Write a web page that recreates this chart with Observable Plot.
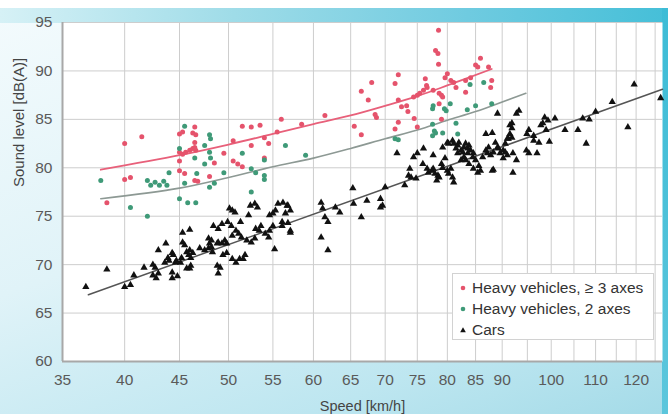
<!DOCTYPE html>
<html><head><meta charset="utf-8">
<script src="https://cdn.jsdelivr.net/npm/d3@7"></script>
<script src="https://cdn.jsdelivr.net/npm/@observablehq/plot@0.6"></script>
<style>
html,body{margin:0;padding:0;background:#fff;}
#wrap{position:relative;width:668px;height:414px;overflow:hidden;font-family:"Liberation Sans",Arial,sans-serif;
  background:linear-gradient(160deg,#f4fbfd 0%,#e0f3f8 45%,#bde6f0 80%,#a4dbe8 100%);}
#topwhite{position:absolute;left:0;top:0;width:668px;height:8px;background:#fff;}
#band{position:absolute;left:0;top:8px;width:668px;height:15px;background:linear-gradient(to right,#d6f1f6 0%,#9fdce8 35%,#6fcbe0 70%,#45bfd8 100%);}
#rstrip{position:absolute;left:662px;top:8px;width:6px;height:406px;background:linear-gradient(to bottom,#3dbcd6,#5cc6dc);}
#chart{position:absolute;left:0;top:0;}
#legend{position:absolute;left:452px;top:273px;width:202px;height:67px;background:#fff;border:1px solid #d2d2d2;box-sizing:border-box;}
.row{position:absolute;left:0;height:20px;display:flex;align-items:center;font-size:15.5px;color:#333;white-space:nowrap;}
.row svg{margin-left:6px;margin-right:5px;}
</style></head>
<body>
<div id="wrap">
  <div id="topwhite"></div>
  <div id="band"></div>
  <div id="rstrip"></div>
  <div id="chart"></div>
  <div id="legend"></div>
</div>
<script>
// Tick values
const speedTicks = [35,40,45,50,55,60,65,70,75,80,85,90,100,110,120];
const speedGrid = [35,40,45,50,55,60,65,70,75,80,85,90,95,100,105,110,115,120,125];
const levelTicks = [60,65,70,75,80,85,90,95];

// Series names
const seriesNames = ["Heavy vehicles, \u2265 3 axes","Heavy vehicles, 2 axes","Cars"];
const seriesColors = ["#e5536c","#3f9a78","#111111"];

// Heavy vehicles, >= 3 axes: [speed km/h, level dB(A)]
const heavy3 = [
[40,82.5],[41.5,83.2],[45,83.5],[45.3,83.7],[46.5,84.2],[46.3,83.6],[46.6,83.4],[46.5,82.6],
[45,81.6],[45.3,81.4],[45.6,81.6],[46,81.8],[46.3,82],[46.6,81.8],[46.5,82.1],
[45,80.7],[45,79.7],[45.5,79.4],[46.5,78.7],[46.8,78.6],[40,78.8],[40.5,79],[38.5,76.4],
[48,79.1],[48.5,80.5],[49.5,81.5],[50.5,82.8],[50.5,80.7],[51,80.4],[51.5,80.1],
[51.5,84.3],[52.5,84.2],[53.5,84.4],[52.5,82.3],[54,83.1],[54.5,82.5],[54,81],
[56,85],[55.5,83.7],[58.5,84.5],[61.5,85.4],[65.5,84.3],[66.5,83.4],[66.5,87.9],[67.5,87],
[68,88.8],[68.5,85.5],[68.7,85.2],[72,89.6],[71.5,88.7],[72,87],[72.5,86.3],[73.5,85.8],
[72,84.7],[71.5,84],[74.5,85.1],[75,84.2],[73.3,86.4],
[74.4,87.3],[75,87.5],[75.4,87.7],[76,88],[76.6,88.3],[77.6,88],[76.3,89.2],[76.5,88.5],
[78.5,94.2],[78,92.1],[78.4,91.8],[78.5,90.7],[78.6,87.7],[79,87.5],[79.2,87.3],[78.6,86.6],
[80,89.7],[79.6,89.3],[80.6,89],[81.1,88.8],[81.5,88.3],[83.2,89],[84.1,89.3],[83.2,87.8],
[85.4,90.4],[85.9,91.3],[85,90.6],[87.4,90.4],[87.8,88.3],[88,89],[79,85]
];

// Heavy vehicles, 2 axes
const heavy2 = [
[38,78.7],[40.5,75.9],[42,75],[42,78.7],[42.7,78.5],[42.3,78.2],[43.1,78.2],[43.8,78.2],
[43.5,78.6],[44,79.5],[45.5,78.4],[45,76.8],[45.8,76.4],[46.6,76.4],[46.7,79.4],[45,82],
[45.5,84.3],[46.5,81],[47.5,82.3],[48,83.4],[48.1,83],[48,81.6],[48.1,81],[47.5,80.4],
[48,78],[48.5,78.4],[49.5,79.5],[51.5,81.5],[52.5,79.9],[53,79.5],[52.5,77.5],[54,80.8],
[54,79.2],[54,78.8],[56.5,82.3],[59,81.3],[71.5,83],[72,82.9],[77.5,86.1],[77.5,84.5],
[77.8,83.8],[77.5,83.3],[78,83.6],[79.5,86.1],[79.8,85.9],[80.5,86.6],[81.5,84.6],[83.5,86],
[84,88.6],[86.5,88.8],[85,86.4],[88,86.6],[77.6,86.4],[79.2,83.6],[81.8,83.5]
];

// Cars
const cars = [
[36.8,67.7],[38.5,69.5],[40,67.7],[40.5,67.9],[40.8,68.9],[41.7,69.7],[42.5,70],[42.7,69.7],
[42.8,68.6],[43,69.1],[42.5,68.9],[43,71.5],[43.7,72.2],[43.6,70.2],[43.9,70.7],[44,70.4],
[44.3,71.2],[44.4,71],[44.3,69.2],[44.3,68.6],[44.8,68.8],[44.6,70.2],[44.7,70.4],[45.1,70.2],
[45.2,70.7],[45.3,73.3],[45.3,72.3],[45.5,72],[45.7,71.3],[46,71.5],[45.9,71],[46.1,70.7],
[46.3,71.2],[45.7,69.6],[46,69.6],[46.1,69.9],[46,73.6],
[47,71.7],[47.5,71.5],[47.9,71.7],[48.2,71.8],[48.3,71.3],[48,72.2],[47.9,72.7],[48.2,72.5],
[48.8,72.2],[48.9,72.3],[49.3,72.2],[49.6,72.5],[49.8,72.2],
[48.4,74],[48.9,73.7],[49.3,74.2],[48.8,69.9],[48.9,69.1],[49.1,69.7],
[49.4,71],[49.8,71.2],[50.4,70.6],[50.8,70.2],[51.2,70.6],
[50.1,75.8],[50.4,75.6],[50.7,75.4],[49.9,74.4],[50.3,74],[51.3,74.4],
[50.8,73.5],[51.1,73.2],[50.4,73],[51.4,72.8],[51.6,70.6],[51.8,71],
[52,72.5],[52.5,72.3],[52.9,72.7],[52.4,76.1],[52.9,76.3],[53.2,75.9],[52.2,75.1],
[53,73.7],[53.4,73.5],[53.6,74],
[54.1,73.2],[54.5,72.8],[54.6,73.5],[55,74],[54.6,75.1],[55,75.3],[55.3,75.6],[55.6,76.3],
[56.2,76.4],[56.7,76.1],[56.5,75.3],[56.1,74.4],[56.1,74],[57.1,73.5],[55.2,71.6],
[56.8,76.1],[57.1,75.6],[56.8,74.3],[57.1,73.3],[61,76.4],[61.2,75.8],[61.5,74.9],[61.9,74.4],
[61,72.8],[61.9,71.5],[62.9,75.9],[63.5,75.4],[65.3,77.9],[65.4,76.3],[66.5,74.9],[67.3,76.6],
[69.3,76.8],[69.6,76.1],[69.3,75.9],[70,78],[71.8,81.5],[73,78.2],[73.6,79.2],[73.8,79.9],
[74,79],[74.8,78.9],[74.4,81.1],[75,81.5],[75.9,80.4],[76,82],
[76.6,79.9],[76.8,79.5],[77.4,79.7],[77.6,79.9],[77.9,79.4],[78.2,78.7],[78.4,79.2],[77.6,81.3],
[79,80.4],[79.2,80],[79.6,81],[80,79.7],[80.2,79.4],[80.6,79.9],[80.9,79],[81.1,78.5],[78.6,79],
[79.2,82.1],[80.2,82.5],[80.9,82.8],[80,82.6],[81.1,82.5],[81.5,82],[81.8,82.3],[82,82.6],
[82.4,81.8],[82.7,81.6],[82.9,82.1],[83.2,82.5],[83.6,82],[83.8,82.3],[84.1,81.8],[83.6,81.5],
[82.9,81.1],[82.4,80.8],[81.8,81.5],[83.2,80.8],[83.8,80.4],[84.5,81.1],[84.6,81.5],[85,80.8],
[85.6,80.2],[84.6,79.9],[85.4,79.5],[85.9,79.7],[86.3,81.1],[86.9,81.8],[87.2,81.5],[87.4,82.1],
[87.8,81.3],[88.1,79.7],[88.3,81.6],[88.7,82.6],[89.1,82.1],[89.3,82],[89.6,81.5],[90.2,81.8],
[90.6,82.5],[91.2,83],[91.5,83.5],[91.9,84.1],[91.5,84.4],[91,81.3],[92.1,79.5],[92.8,80.8],
[86.9,83.5],[88.1,83.6],[89.1,85.6],
[92.8,85.6],[93.3,85.9],[91.9,84.6],[91.9,83.1],[91,83],[95.3,83.9],[94.9,83.5],[96.3,83.3],
[98.6,85.2],[99.3,84.9],[100.8,85.1],[98.2,84.6],[97.8,84.4],[98.9,83.9],[96.3,82.8],[97.4,82.6],
[99.6,82.7],[94.8,81.8],[95.3,81.5],[97,81.5],[103,83.9],[105.9,83.9],[107,85.1],[108.5,85],
[107.8,82.5],[110,85.8],[114,86.8],[117.9,84.2],[119.5,88.6],[126.5,87.2],[92.1,81.5],[88.3,79.8],
[90.2,81],[90.6,81.6]
];

// Trend lines
const heavy3Trend = [[38,79.8],[45,81.3],[50,82.4],[55,83.5],[60,84.5],[65,85.4],[70,86.4],[75,87.4],[80,88.5],[88,90.2]];
const heavy2Trend = [[38,76.8],[45,77.9],[50,79.0],[55,80.1],[60,81.0],[65,82.0],[70,83.0],[75,83.9],[80,84.9],[85,85.8],[90,86.8],[94.7,87.7]];
const carsTrend = [[37,66.9],[127,88.1]];

const X = d => d[0], Y = d => d[1];

const chart = Plot.plot({
  width: 668, height: 414,
  marginLeft: 62, marginRight: 6, marginTop: 22, marginBottom: 53,
  style: {background: "transparent", fontFamily: "'Liberation Sans', Arial, sans-serif"},
  x: {type: "log", domain: [35, 127]},
  y: {domain: [60, 95]},
  marks: [
    Plot.frame({fill: "white", stroke: null}),
    Plot.gridX(speedGrid, {stroke: "#cdcdcd", strokeOpacity: 1, strokeWidth: 1}),
    Plot.gridY(levelTicks, {stroke: "#cdcdcd", strokeOpacity: 1, strokeWidth: 1}),
    Plot.ruleX([35], {stroke: "#a8a8a8", strokeWidth: 2}),
    Plot.ruleY([60], {stroke: "#a8a8a8", strokeWidth: 2}),
    Plot.axisX(speedTicks, {tickSize: 0, tickPadding: 12, fontSize: 15.5, fill: "#5a5a5a", tickFormat: d => String(d), label: null}),
    Plot.axisY(levelTicks, {tickSize: 0, tickPadding: 10, fontSize: 15.5, fill: "#5a5a5a", tickFormat: d => String(d), label: null}),
    Plot.text(["Speed [km/h]"], {frameAnchor: "bottom", dy: 49, fontSize: 14.5, fill: "#444"}),
    Plot.text(["Sound level [dB(A)]"], {frameAnchor: "left", rotate: -90, dx: -43, dy: -5, fontSize: 15, fill: "#444"}),
    Plot.line(heavy2Trend, {x: X, y: Y, stroke: "#8d9994", strokeWidth: 1.6, curve: "catmull-rom"}),
    Plot.line(heavy3Trend, {x: X, y: Y, stroke: "#e8607a", strokeWidth: 1.8, curve: "catmull-rom"}),
    Plot.line(carsTrend, {x: X, y: Y, stroke: "#555", strokeWidth: 1.5}),
    Plot.dot(heavy3, {x: X, y: Y, r: 2.5, fill: seriesColors[0], stroke: null}),
    Plot.dot(heavy2, {x: X, y: Y, r: 2.5, fill: seriesColors[1], stroke: null}),
    Plot.dot(cars, {x: X, y: Y, r: 2.7, symbol: "triangle", fill: seriesColors[2], stroke: null})
  ]
});
document.getElementById("chart").appendChild(chart);

// Legend
const legend = document.getElementById("legend");
const rowTops = [4, 25, 46];
seriesNames.forEach((name, i) => {
  const row = document.createElement("div");
  row.className = "row";
  row.style.top = rowTops[i] + "px";
  const marker = i < 2
    ? `<svg width="8" height="8"><circle cx="4" cy="4" r="2.3" fill="${seriesColors[i]}"/></svg>`
    : `<svg width="8" height="8"><path d="M4,1.2L6.8,6.3L1.2,6.3Z" fill="${seriesColors[i]}"/></svg>`;
  row.innerHTML = marker + `<span>${name}</span>`;
  legend.appendChild(row);
});
</script>
</body></html>
